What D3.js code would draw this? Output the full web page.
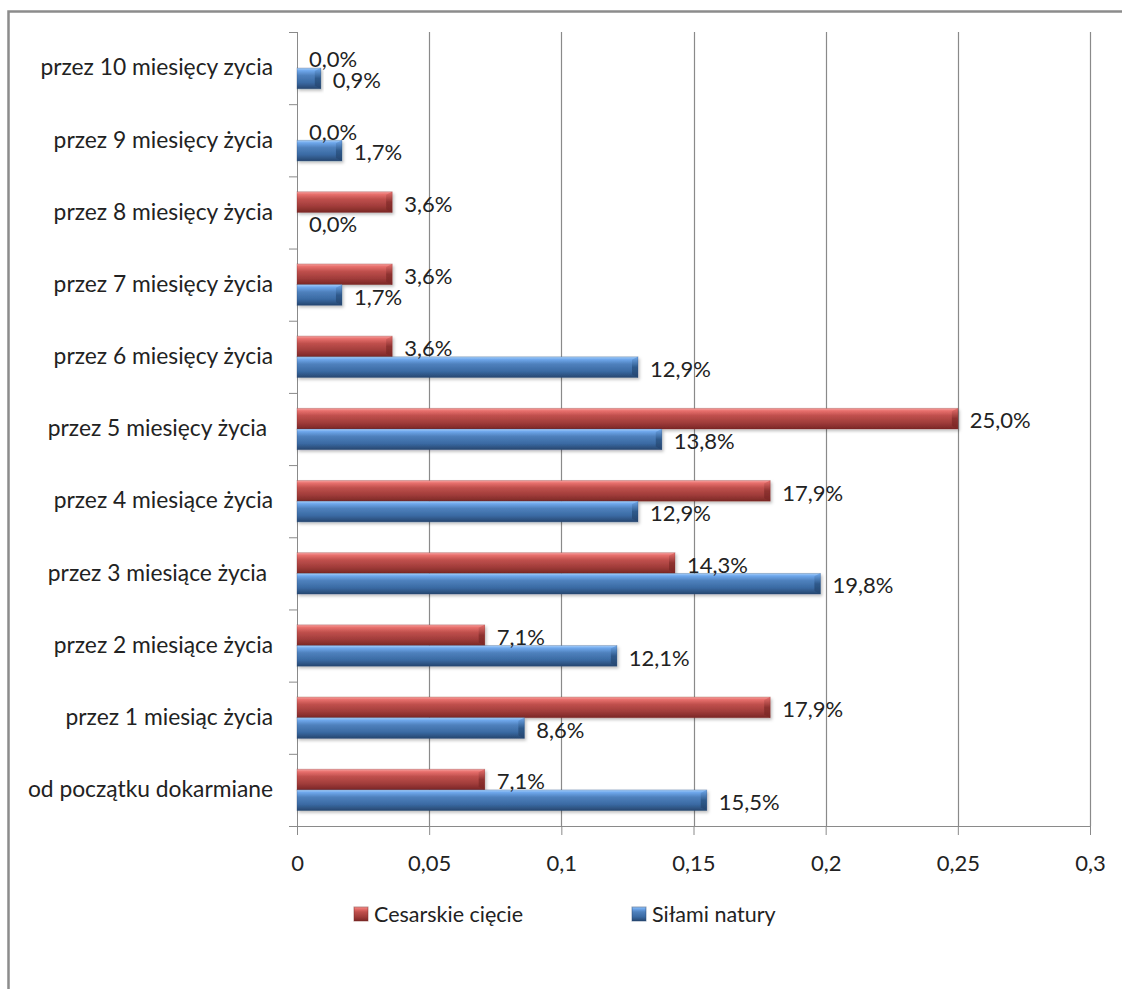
<!DOCTYPE html>
<html>
<head>
<meta charset="utf-8">
<script src="https://cdn.jsdelivr.net/npm/d3@7/dist/d3.min.js"></script>
<style>
  html, body { margin: 0; padding: 0; background: #fff; }
  svg text { font-family: Lato, "Open Sans", sans-serif; fill: #222; }
</style>
</head>
<body>
<svg id="chart" width="1122" height="989"></svg>
<script>
// Categories, listed from top to bottom
const categories = [
  "przez 10 miesięcy zycia",
  "przez 9 miesięcy życia",
  "przez 8 miesięcy życia",
  "przez 7 miesięcy życia",
  "przez 6 miesięcy życia",
  "przez 5 miesięcy życia ",
  "przez 4 miesiące życia",
  "przez 3 miesiące życia ",
  "przez 2 miesiące życia",
  "przez 1 miesiąc życia",
  "od początku dokarmiane"
];
const seriesNames = ["Cesarskie cięcie", "Siłami natury"];
const cesarskie = [0.000, 0.000, 0.036, 0.036, 0.036, 0.250, 0.179, 0.143, 0.071, 0.179, 0.071];
const silami    = [0.009, 0.017, 0.000, 0.017, 0.129, 0.138, 0.129, 0.198, 0.121, 0.086, 0.155];
const xTicks = [0, 0.05, 0.1, 0.15, 0.2, 0.25, 0.3];
const xTickLabels = ["0", "0,05", "0,1", "0,15", "0,2", "0,25", "0,3"];

const svg = d3.select("#chart");
const plot = { left: 297, right: 1090, top: 32, bottom: 826 };

// outer frame (open to the right and bottom)
svg.append("path")
  .attr("d", "M8.5,989 L8.5,11.5 L1122,11.5")
  .attr("fill", "none").attr("stroke", "#8c8c8c").attr("stroke-width", 2.5);

const x = d3.scaleLinear().domain([0, 0.3]).range([plot.left, plot.right]);
const y = d3.scaleBand().domain(categories).range([plot.top, plot.bottom])
  .paddingInner(0.427).paddingOuter(0.2135);
const ySub = d3.scaleBand().domain(seriesNames).range([0, y.bandwidth()]);

const palette = {
  "Cesarskie cięcie": { top: "#f7a3a1", hi: "#e8706d", mid: "#c0504d", lo: "#a03c3a", bot: "#7a2725", cap: "#8e3230" },
  "Siłami natury":    { top: "#a9d0fa", hi: "#6fa8ec", mid: "#4f81bd", lo: "#3a6aa3", bot: "#26466f", cap: "#2f5a8c" }
};

const defs = svg.append("defs");
seriesNames.forEach((s, i) => {
  const c = palette[s];
  const g = defs.append("linearGradient").attr("id", "grad" + i)
    .attr("x1", 0).attr("y1", 0).attr("x2", 0).attr("y2", 1);
  [[0, c.top], [0.12, c.hi], [0.35, c.mid], [0.7, c.lo], [1, c.bot]]
    .forEach(([o, col]) => g.append("stop").attr("offset", o).attr("stop-color", col));
  const gc = defs.append("linearGradient").attr("id", "cap" + i)
    .attr("x1", 0).attr("y1", 0).attr("x2", 0).attr("y2", 1);
  [[0, c.hi], [0.5, c.cap], [1, c.bot]]
    .forEach(([o, col]) => gc.append("stop").attr("offset", o).attr("stop-color", col));
});
const shadow = defs.append("filter").attr("id", "shadow")
  .attr("x", "-5%").attr("y", "-20%").attr("width", "115%").attr("height", "160%");
shadow.append("feDropShadow").attr("dx", 1.5).attr("dy", 2).attr("stdDeviation", 1.5)
  .attr("flood-color", "#000").attr("flood-opacity", 0.25);

// vertical gridlines
svg.append("g").selectAll("line").data(xTicks.slice(1)).join("line")
  .attr("x1", d => Math.round(x(d)) + 0.5).attr("x2", d => Math.round(x(d)) + 0.5)
  .attr("y1", plot.top).attr("y2", plot.bottom)
  .attr("stroke", "#8a8a8a").attr("stroke-width", 1.2);

// x axis
const xAxis = svg.append("g").attr("transform", `translate(0,${plot.bottom})`)
  .call(d3.axisBottom(x).tickValues(xTicks).tickFormat((d, i) => xTickLabels[i]).tickSize(9).tickPadding(20));
xAxis.select(".domain").attr("stroke", "#8a8a8a").attr("d", `M${plot.left},0.5H${plot.right}`);
xAxis.selectAll(".tick line").attr("stroke", "#8a8a8a");
xAxis.selectAll(".tick text").attr("font-size", 22).attr("font-family", "Lato, sans-serif").attr("fill", "#222");

// y axis
const yAxis = svg.append("g").attr("transform", `translate(${plot.left},0)`)
  .call(d3.axisLeft(y).tickSize(0).tickPadding(24));
yAxis.select(".domain").attr("stroke", "#8a8a8a").attr("d", `M0.5,${plot.top}V${plot.bottom}`);
yAxis.selectAll(".tick text").attr("font-size", 22.8).attr("font-family", "Lato, sans-serif")
  .attr("fill", "#222").style("white-space", "pre");
// category boundary ticks
const bounds = d3.range(categories.length + 1).map(i => plot.top + i * y.step());
svg.append("g").selectAll("line").data(bounds).join("line")
  .attr("x1", plot.left - 8).attr("x2", plot.left)
  .attr("y1", d => d + 0.5).attr("y2", d => d + 0.5)
  .attr("stroke", "#8a8a8a");

// bars
const rows = categories.map((c, i) => ({ cat: c, vals: [cesarskie[i], silami[i]] }));
const bars = svg.append("g");
rows.forEach(r => {
  r.vals.forEach((v, si) => {
    const s = seriesNames[si];
    const y0 = y(r.cat) + ySub(s);
    const h = ySub.bandwidth();
    const x0 = x(0), x1 = x(v);
    if (x1 - x0 < 0.5) return;
    const g = bars.append("g").attr("filter", "url(#shadow)");
    g.append("rect").attr("x", x0).attr("y", y0).attr("width", x1 - x0).attr("height", h)
      .attr("fill", `url(#grad${si})`);
    const cw = Math.min(6, (x1 - x0) / 2);
    g.append("path")
      .attr("d", `M${x1 - cw},${y0 + 3}L${x1},${y0}L${x1},${y0 + h}L${x1 - cw},${y0 + h - 3}Z`)
      .attr("fill", `url(#cap${si})`);
    g.append("rect").attr("x", x0).attr("y", y0).attr("width", x1 - x0).attr("height", h)
      .attr("fill", "none").attr("stroke", palette[s].bot).attr("stroke-opacity", 0.35).attr("stroke-width", 0.8);
  });
});

// value labels
const fmt = v => (v * 100).toFixed(1).replace(".", ",") + "%";
const labels = svg.append("g");
rows.forEach(r => {
  r.vals.forEach((v, si) => {
    const s = seriesNames[si];
    const cy = y(r.cat) + ySub(s) + ySub.bandwidth() / 2 + 2;
    labels.append("text")
      .attr("x", x(v) + 12).attr("y", cy).attr("dy", "0.35em")
      .attr("font-size", 22).text(fmt(v));
  });
});

// legend
const legendItems = [
  { name: "Cesarskie cięcie", sx: 354, idx: 0 },
  { name: "Siłami natury", sx: 632, idx: 1 }
];
const lg = svg.append("g");
legendItems.forEach(d => {
  lg.append("rect").attr("x", d.sx).attr("y", 907).attr("width", 14).attr("height", 14)
    .attr("fill", `url(#grad${d.idx})`).attr("stroke", palette[seriesNames[d.idx]].bot).attr("stroke-opacity", 0.5);
  lg.append("text").attr("x", d.sx + 20).attr("y", 914).attr("dy", "0.35em")
    .attr("font-size", 21.5).text(d.name);
});
</script>
</body>
</html>
